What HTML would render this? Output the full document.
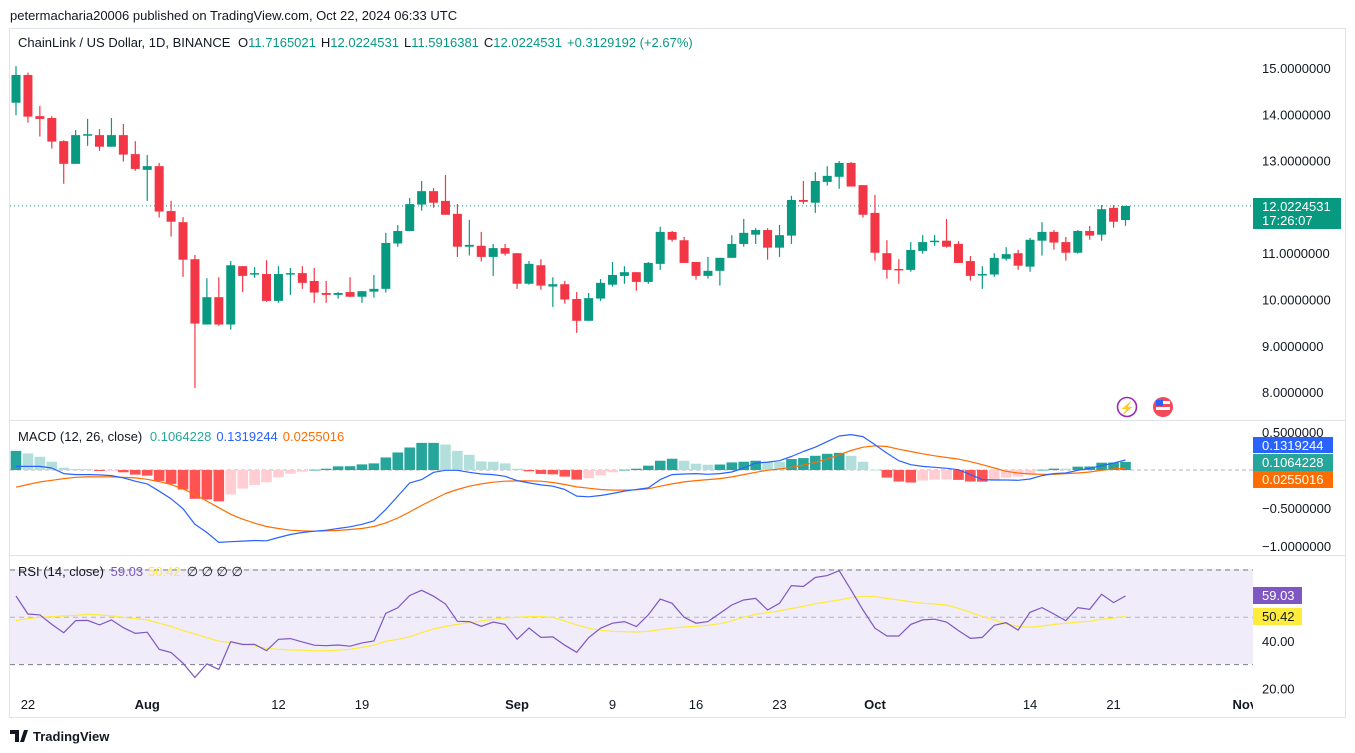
<!DOCTYPE html>
<html><head><meta charset="utf-8">
<style>
html,body{margin:0;padding:0;background:#fff;}
svg{display:block;font-family:"Liberation Sans",sans-serif;}
</style></head>
<body>
<svg id="chart" width="1355" height="753" viewBox="0 0 1355 753" xmlns="http://www.w3.org/2000/svg">
  <text x="10" y="20" font-size="13" fill="#131722">petermacharia20006 published on TradingView.com, Oct 22, 2024 06:33 UTC</text>
  <rect x="9.5" y="28.5" width="1336" height="689" fill="#fff" stroke="#e0e3eb"/>
  <rect x="10" y="569" width="1243" height="95" fill="#f0ecf9"/>
  <line x1="10" x2="1345" y1="420.5" y2="420.5" stroke="#e0e3eb"/>
  <line x1="10" x2="1345" y1="555.5" y2="555.5" stroke="#e0e3eb"/>
  <g id="marks"></g>
  <text x="18" y="47" font-size="13" fill="#131722">ChainLink / US Dollar, 1D, BINANCE <tspan dx="4">O</tspan><tspan fill="#089981">11.7165021</tspan><tspan dx="5">H</tspan><tspan fill="#089981">12.0224531</tspan><tspan dx="5">L</tspan><tspan fill="#089981">11.5916381</tspan><tspan dx="5">C</tspan><tspan fill="#089981">12.0224531</tspan><tspan dx="5" fill="#089981">+0.3129192 (+2.67%)</tspan></text>
  <text x="18" y="441" font-size="13" fill="#131722">MACD (12, 26, close) <tspan dx="4" fill="#26a69a">0.1064228</tspan><tspan dx="5" fill="#2962ff">0.1319244</tspan><tspan dx="5" fill="#ff6d00">0.0255016</tspan></text>
  <text x="18" y="576" font-size="13" fill="#131722">RSI (14, close) <tspan dx="3" fill="#7e57c2">59.03</tspan><tspan dx="5" fill="#ffeb3b">50.42</tspan><tspan dx="6" fill="#131722">∅ ∅ ∅ ∅</tspan></text>
  <g><circle cx="1127" cy="407" r="9.5" fill="#fff" stroke="#9c27b0" stroke-width="1.6"/><text x="1127" y="412" font-size="12" text-anchor="middle" fill="#9c27b0">⚡</text></g>
  <g><circle cx="1163" cy="407" r="10" fill="#f23645" opacity="0.9"/><rect x="1156" y="401" width="14" height="3" fill="#fff"/><rect x="1156" y="407" width="14" height="3" fill="#fff"/><rect x="1156" y="400" width="7" height="6" fill="#2962ff"/></g>
  <g><path d="M10 730h9v12h-4v-8h-5z M20 742l4-12h4l-4 12z" fill="#131722"/><text x="33" y="741" font-size="13" font-weight="bold" fill="#131722">TradingView</text></g>
</svg>
<script>
const opens=[14.25,14.85,13.96,13.92,13.42,12.93,13.54,13.55,13.30,13.55,13.14,12.80,12.88,11.91,11.67,10.87,9.46,10.05,9.46,10.72,10.55,10.55,9.97,10.54,10.57,10.40,10.14,10.10,10.16,10.06,10.17,10.23,11.21,11.48,12.05,12.34,12.13,11.85,11.14,11.16,10.92,11.11,11.00,10.34,10.74,10.28,10.33,10.01,9.54,10.02,10.32,10.51,10.59,10.38,10.77,11.46,11.28,10.81,10.51,10.62,10.90,11.20,11.40,11.50,11.12,11.38,12.15,12.09,12.54,12.65,12.95,12.47,11.87,11.00,10.66,10.64,11.05,11.26,11.27,11.20,10.83,10.54,10.54,10.88,11.00,10.71,11.27,11.46,11.24,11.01,11.48,11.40,11.98,11.7165];
const highs=[15.04,14.90,14.18,13.96,13.44,13.66,13.90,13.68,13.92,13.79,13.42,13.12,12.95,12.13,11.78,10.96,10.46,10.48,10.83,10.72,10.70,10.85,10.72,10.68,10.72,10.68,10.40,10.16,10.48,10.18,10.53,11.44,11.61,12.19,12.56,12.41,12.69,12.06,11.72,11.46,11.20,11.20,11.00,10.83,10.87,10.48,10.40,10.16,10.14,10.44,10.81,10.72,10.59,10.81,11.57,11.48,11.35,10.81,10.92,10.90,11.39,11.74,11.54,11.54,11.61,12.24,12.56,12.75,12.88,12.99,12.97,12.47,12.26,11.28,10.87,11.24,11.39,11.39,11.74,11.26,10.94,10.72,11.00,11.13,11.07,11.33,11.67,11.50,11.35,11.50,11.59,12.04,12.04,12.0225];
const lows=[13.98,13.82,13.52,13.26,12.50,12.93,13.32,13.21,13.30,12.98,12.78,12.13,11.77,11.36,10.49,8.09,9.46,9.43,9.35,10.16,10.47,9.95,9.93,10.10,10.23,9.93,9.93,10.02,10.05,9.93,10.04,10.15,11.14,11.48,11.92,11.98,11.83,10.92,10.95,10.82,10.51,10.95,10.23,10.32,10.21,9.84,9.91,9.28,9.54,9.97,10.28,10.34,10.19,10.34,10.64,11.25,10.79,10.43,10.45,10.30,10.90,11.14,11.20,10.86,10.92,11.20,12.06,11.87,12.46,12.39,12.44,11.77,10.84,10.45,10.34,10.60,10.99,11.16,11.12,10.79,10.41,10.23,10.49,10.84,10.64,10.60,10.95,11.08,10.84,10.99,11.29,11.27,11.55,11.5916];
const closes=[14.85,13.95,13.90,13.41,12.93,13.55,13.57,13.30,13.55,13.13,12.82,12.88,11.90,11.68,10.86,9.48,10.05,9.46,10.74,10.51,10.57,9.97,10.55,10.57,10.36,10.15,10.10,10.14,10.06,10.18,10.23,11.22,11.48,12.06,12.34,12.09,11.83,11.14,11.18,10.92,11.11,10.99,10.34,10.77,10.30,10.33,10.00,9.54,10.03,10.36,10.53,10.59,10.38,10.79,11.46,11.29,10.79,10.51,10.62,10.90,11.20,11.44,11.50,11.12,11.39,12.15,12.11,12.56,12.67,12.95,12.44,11.83,11.01,10.64,10.64,11.07,11.24,11.27,11.14,10.79,10.51,10.55,10.90,10.98,10.73,11.29,11.46,11.23,11.01,11.48,11.38,11.95,11.68,12.0225];
const macdHist=[0.252,0.218,0.174,0.109,0.030,0.013,0.012,-0.013,-0.004,-0.030,-0.061,-0.074,-0.144,-0.183,-0.257,-0.379,-0.387,-0.413,-0.322,-0.244,-0.196,-0.161,-0.096,-0.048,-0.022,0.004,0.017,0.048,0.050,0.074,0.087,0.165,0.231,0.296,0.357,0.357,0.335,0.252,0.200,0.113,0.109,0.087,0.017,-0.017,-0.052,-0.057,-0.087,-0.126,-0.109,-0.070,-0.030,0.004,0.017,0.057,0.122,0.148,0.122,0.083,0.070,0.072,0.100,0.109,0.122,0.109,0.105,0.144,0.157,0.187,0.213,0.226,0.187,0.109,0.003,-0.100,-0.152,-0.165,-0.139,-0.126,-0.124,-0.130,-0.152,-0.154,-0.126,-0.100,-0.087,-0.061,0.004,0.018,0.017,0.044,0.046,0.096,0.098,0.1064];
const macdLine=[0.048,0.048,0.048,0.026,-0.048,-0.061,-0.061,-0.065,-0.074,-0.104,-0.148,-0.183,-0.279,-0.379,-0.509,-0.714,-0.822,-0.953,-0.944,-0.936,-0.927,-0.931,-0.888,-0.849,-0.822,-0.805,-0.792,-0.770,-0.748,-0.714,-0.670,-0.518,-0.344,-0.170,-0.126,-0.030,-0.004,-0.004,-0.030,-0.052,-0.061,-0.083,-0.139,-0.170,-0.196,-0.213,-0.257,-0.344,-0.353,-0.335,-0.309,-0.278,-0.257,-0.235,-0.126,-0.061,-0.052,-0.048,-0.057,-0.048,-0.026,0.026,0.091,0.104,0.122,0.178,0.244,0.300,0.374,0.448,0.466,0.439,0.331,0.222,0.122,0.070,0.048,0.035,0.022,0.004,-0.061,-0.126,-0.131,-0.131,-0.135,-0.118,-0.074,-0.048,-0.039,-0.004,0.022,0.057,0.091,0.1319];
const signalLine=[-0.226,-0.191,-0.157,-0.135,-0.113,-0.096,-0.091,-0.091,-0.091,-0.096,-0.104,-0.122,-0.152,-0.191,-0.248,-0.322,-0.409,-0.496,-0.583,-0.648,-0.700,-0.744,-0.770,-0.792,-0.801,-0.805,-0.801,-0.796,-0.783,-0.770,-0.744,-0.696,-0.631,-0.553,-0.466,-0.387,-0.309,-0.257,-0.213,-0.183,-0.161,-0.148,-0.144,-0.144,-0.148,-0.165,-0.191,-0.222,-0.239,-0.257,-0.265,-0.265,-0.261,-0.248,-0.213,-0.183,-0.157,-0.139,-0.126,-0.113,-0.091,-0.061,-0.030,-0.004,0.013,0.035,0.065,0.100,0.144,0.200,0.257,0.300,0.318,0.309,0.274,0.244,0.213,0.187,0.165,0.144,0.109,0.070,0.026,-0.017,-0.039,-0.052,-0.057,-0.057,-0.048,-0.039,-0.026,-0.004,0.013,0.0255];
const rsiValues=[59.0,51.4,51.0,47.0,43.5,48.6,48.7,46.8,48.9,45.6,43.2,43.7,36.5,35.1,30.6,24.6,30.3,28.0,39.7,38.5,38.6,35.9,40.7,41.0,39.6,38.2,38.0,38.3,37.8,39.2,40.0,51.7,54.0,59.2,61.4,58.9,55.6,48.3,48.2,46.2,48.0,47.0,40.7,45.5,41.5,41.7,38.2,35.2,41.4,45.4,47.5,48.2,46.1,51.0,57.7,55.9,50.0,47.5,48.2,51.7,55.2,57.3,58.0,53.1,55.9,63.4,63.0,66.8,67.6,69.7,61.5,53.1,45.4,42.1,42.1,47.0,48.9,49.2,48.0,44.4,41.1,41.5,46.6,47.7,44.6,52.1,54.1,51.4,48.6,54.1,53.4,59.7,56.2,59.03];
const rsiMaValues=[48.6,49.4,50.0,50.3,50.6,50.8,51.3,51.0,50.6,50.0,49.4,48.9,47.5,46.1,44.4,43.0,41.4,39.9,39.3,38.7,37.9,36.9,36.5,36.2,36.1,35.9,35.9,36.1,36.5,37.3,38.2,39.9,40.7,41.8,43.5,45.1,46.1,47.0,47.7,48.5,49.2,49.7,50.0,50.3,50.3,49.9,48.5,46.8,45.4,44.5,44.1,43.9,43.8,44.1,44.8,45.4,45.9,46.2,46.6,47.3,48.5,50.0,51.3,52.0,52.7,53.7,54.6,55.8,56.5,57.3,58.3,58.9,58.7,58.0,57.3,56.6,55.9,55.6,55.2,53.8,52.1,50.3,48.9,47.2,46.1,45.8,46.3,47.0,47.5,48.0,48.3,49.2,49.6,50.42];
const priceTicks=[15,14,13,11,10,9,8];
const macdTicks=[0.5,-0.5,-1.0];
const rsiTicks=[40,20];
const dateTickIdx=[1,11,22,29,42,50,57,64,72,85,92,103];
const dateTickLabels=["22","Aug","12","19","Sep","9","16","23","Oct","14","21","Nov"];
const dateTickBold=[false,true,false,false,true,false,false,false,true,false,false,true];

const NS="http://www.w3.org/2000/svg";
const g=document.getElementById('marks');
function xAt(i){return 16+i*11.93;}
function yPrice(p){return 68+(15-p)*46.3;}
function yMacd(v){return 470-v*76;}
function yRsi(r){return 617.3-(r-50)*2.367;}
function mk(tag,attrs,parent){const e=document.createElementNS(NS,tag);for(const k in attrs)e.setAttribute(k,attrs[k]);(parent||g).appendChild(e);return e;}

let pl=mk('line',{x1:10,x2:1253,y1:yPrice(closes[closes.length-1]),y2:yPrice(closes[closes.length-1]),stroke:'#089981','stroke-dasharray':'1 3'});



for(let i=0;i<opens.length;i++){
  const up=closes[i]>=opens[i];const col=up?'#089981':'#f23645';const x=xAt(i);
  const cg=mk('g',{});
  
  
  mk('line',{x1:x,x2:x,y1:yPrice(highs[i]),y2:yPrice(lows[i]),stroke:col,'stroke-width':1.2},cg);
  const t=yPrice(Math.max(opens[i],closes[i])),b=yPrice(Math.min(opens[i],closes[i]));
  mk('rect',{x:x-4.5,y:t,width:9,height:Math.max(1.5,b-t),fill:col},cg);
}

let zl=mk('line',{x1:10,x2:1253,y1:yMacd(0),y2:yMacd(0),stroke:'#b2b5be','stroke-dasharray':'4 3'});


for(let i=0;i<macdHist.length;i++){
  const v=macdHist[i],pv=i>0?macdHist[i-1]:v;let col;
  if(v>=0)col=(v>=pv)?'#26a69a':'#b2dfdb';else col=(v<pv)?'#ff5252':'#ffcdd2';
  const y0=yMacd(0),y1=yMacd(v);
  const r=mk('rect',{x:xAt(i)-5.3,y:Math.min(y0,y1),width:10.6,height:Math.max(0.8,Math.abs(y1-y0)),fill:col});
  
  
}
let sp='',mp='';
for(let i=0;i<macdLine.length;i++){
  sp+=(i?'L':'M')+xAt(i).toFixed(1)+' '+yMacd(signalLine[i]).toFixed(1);
  mp+=(i?'L':'M')+xAt(i).toFixed(1)+' '+yMacd(macdLine[i]).toFixed(1);
}
let sl=mk('path',{d:sp,fill:'none',stroke:'#ff6d00','stroke-width':1.2,'stroke-linejoin':'round'});


let ml=mk('path',{d:mp,fill:'none',stroke:'#2962ff','stroke-width':1.2,'stroke-linejoin':'round'});



[[70,'#787b86','5 4','rsi-upper-band'],[50,'#b2b5be','5 4','rsi-middle-band'],[30,'#787b86','5 4','rsi-lower-band']].forEach(d=>{
  const l=mk('line',{x1:10,x2:1253,y1:yRsi(d[0]),y2:yRsi(d[0]),stroke:d[1],'stroke-dasharray':d[2]});
  
  
});
let rp='',rmp='';
for(let i=0;i<rsiValues.length;i++){
  rp+=(i?'L':'M')+xAt(i).toFixed(1)+' '+yRsi(rsiValues[i]).toFixed(1);
  rmp+=(i?'L':'M')+xAt(i).toFixed(1)+' '+yRsi(rsiMaValues[i]).toFixed(1);
}
let rma=mk('path',{d:rmp,fill:'none',stroke:'#ffeb3b','stroke-width':1.2});


let rl=mk('path',{d:rp,fill:'none',stroke:'#7e57c2','stroke-width':1.2});



function label(x,y,txt,name,opts){
  const t=mk('text',Object.assign({x:x,y:y,'font-size':13,fill:'#131722'},opts||{}));
  t.textContent=txt;
  
  
  return t;
}
priceTicks.forEach(p=>label(1262,yPrice(p)+5,p.toFixed(7),'price-axis-label'));
macdTicks.forEach(v=>label(1262,yMacd(v)+5,(v<0?'\u2212':'')+Math.abs(v).toFixed(7),'macd-axis-label'));
rsiTicks.forEach(v=>label(1262,yRsi(v)+5,v.toFixed(2),'rsi-axis-label'));
dateTickIdx.forEach((idx,k)=>{
  label(xAt(idx),709,dateTickLabels[k],'time-axis-label',{'text-anchor':'middle','font-weight':dateTickBold[k]?'bold':'normal'});
});
let cov=mk('rect',{x:1253,y:695,width:92,height:22,fill:'#fff'});



function badge(y,h,w,bg,fg,lines,name){
  const bg2=mk('g',{});
  
  
  mk('rect',{x:1253,y:y,width:w,height:h,fill:bg},bg2);
  lines.forEach((s,k)=>{const t=mk('text',{x:1262,y:y+13+k*14,'font-size':13,fill:fg},bg2);t.textContent=s;});
}
badge(198,31,88,'#089981','#fff',['12.0224531','17:26:07'],'last-price-badge');
badge(437,16,80,'#2962ff','#fff',['0.1319244'],'macd-value-badge');
badge(454,17,80,'#26a69a','#fff',['0.1064228'],'histogram-value-badge');
badge(471,17,80,'#ff6d00','#fff',['0.0255016'],'signal-value-badge');
badge(587,17,49,'#7e57c2','#fff',['59.03'],'rsi-value-badge');
badge(608,17,49,'#ffeb3b','#131722',['50.42'],'rsi-ma-value-badge');
</script>
</body></html>
